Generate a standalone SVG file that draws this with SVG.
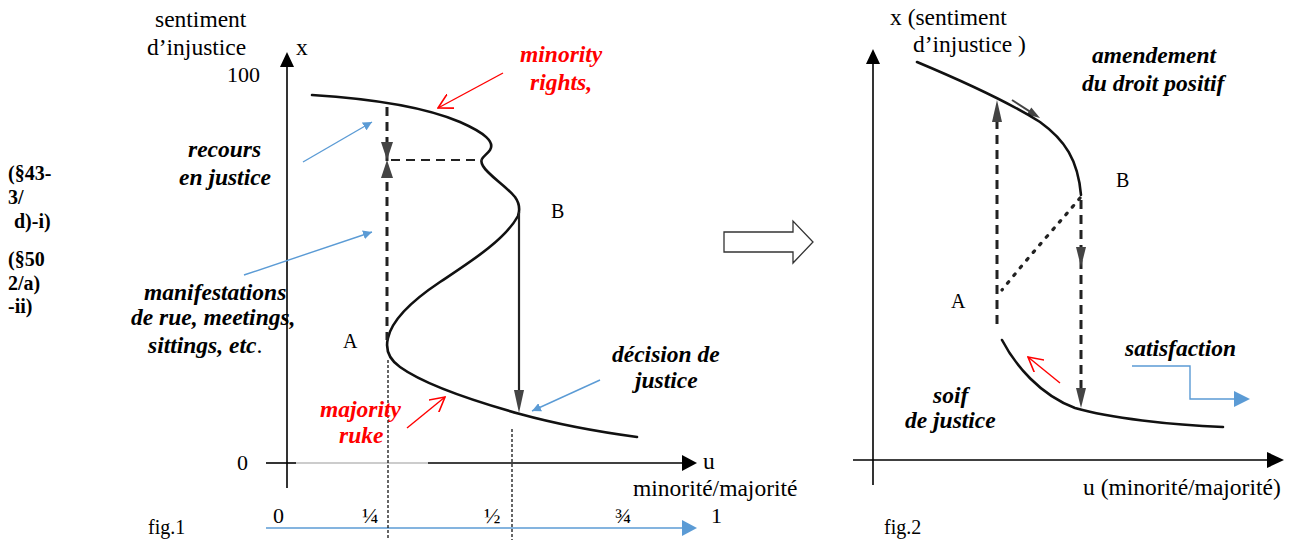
<svg xmlns="http://www.w3.org/2000/svg" width="1289" height="540" viewBox="0 0 1289 540">
<style>
text{font-family:"Liberation Serif","Times New Roman",serif;fill:#000}
.r{font-size:23.5px}
.n{font-size:22px}
.f{font-size:20px}
.bi{font-size:23.5px;font-weight:bold;font-style:italic}
.red{fill:#ff0000}
.b{font-size:20px;font-weight:bold}
.ax{stroke:#000;stroke-width:1.6;fill:none}
.curve{stroke:#111;stroke-width:2.6;fill:none;stroke-linecap:round;stroke-linejoin:round}
.dash{stroke:#222;stroke-width:3;fill:none;stroke-dasharray:9 6}
.thin{stroke:#000;stroke-width:1.2;fill:none;stroke-dasharray:3 2}
.blue{stroke:#5b9bd5;stroke-width:1.4;fill:none}
.redl{stroke:#ff0000;stroke-width:1.4;fill:none}
.head{fill:#444}
</style>
<defs>
<marker id="bh" viewBox="0 0 10 10" refX="10" refY="5" markerWidth="9" markerHeight="9" markerUnits="userSpaceOnUse" orient="auto"><path d="M0,0 L10,5 L0,10 z" fill="#5b9bd5"/></marker>
<marker id="rh" viewBox="0 0 12 12" refX="11" refY="6" markerWidth="16" markerHeight="16" markerUnits="userSpaceOnUse" orient="auto"><path d="M0,0 L11,6 L0,12" fill="none" stroke="#ff0000" stroke-width="1.2"/></marker>
</defs>

<g id="fig1-axes">
<line class="ax" x1="287" y1="488" x2="287" y2="66"/>
<polygon points="280,67 294,67 287,52" fill="#000"/>
<line x1="266" y1="463" x2="296" y2="463" stroke="#000" stroke-width="1.6"/>
<line x1="296" y1="463" x2="428" y2="463" stroke="#bbb" stroke-width="1.4"/>
<line x1="428" y1="463" x2="683" y2="463" stroke="#000" stroke-width="1.6"/>
<polygon points="682,455 682,471 697,463" fill="#000"/>
<line x1="266" y1="528" x2="683" y2="528" stroke="#5b9bd5" stroke-width="1.6"/>
<polygon points="682,520 682,536 697,528" fill="#5b9bd5"/>
<line class="thin" x1="388" y1="360" x2="388" y2="540"/>
<line class="thin" x1="512" y1="429" x2="512" y2="540"/>
</g>

<g id="fig1-curve">
<path class="curve" d="M312,95 C360,98 420,105 460,122 C485,133 495,142 490,150 C486,156 478,158 483,166 C488,175 505,185 515,197 C520,204 520,210 518,216 C505,240 470,262 440,282 C410,302 392,320 388,338 C385,350 390,360 400,367 C425,385 470,400 520,414 C560,425 600,432 637,437"/>
</g>

<g id="connectors">
<line x1="519" y1="212" x2="519" y2="395" stroke="#222" stroke-width="2.2"/>
<polygon class="head" points="514,390 524,390 519,413"/>
<line class="dash" x1="387" y1="107" x2="387" y2="340"/>
<polygon class="head" points="381,142 393,142 387,160"/>
<polygon class="head" points="381,178 393,178 387,160"/>
<line x1="391" y1="160" x2="482" y2="160" stroke="#222" stroke-width="2" stroke-dasharray="9 6"/>
<line class="blue" x1="303" y1="162" x2="372" y2="122" marker-end="url(#bh)"/>
<line class="blue" x1="244" y1="275" x2="372" y2="232" marker-end="url(#bh)"/>
<line class="blue" x1="600" y1="380" x2="532" y2="411" marker-end="url(#bh)"/>
<line class="redl" x1="503" y1="73" x2="438" y2="108" marker-end="url(#rh)"/>
<line class="redl" x1="407" y1="428" x2="445" y2="397" marker-end="url(#rh)"/>
<polygon points="724,232 793,232 793,221 813,242 793,263 793,252 724,252" fill="#fff" stroke="#333" stroke-width="1.3"/>
<line class="dash" x1="997" y1="120" x2="997" y2="325"/>
<polygon class="head" points="992,122 1002,122 997,100"/>
<line class="dash" x1="1081" y1="200" x2="1081" y2="392"/>
<polygon class="head" points="1076,247 1086,247 1081,267"/>
<polygon class="head" points="1076,388 1086,388 1081,408"/>
<path d="M1080,198 C1060,222 1030,255 1002,290" stroke="#222" stroke-width="3.2" fill="none" stroke-dasharray="2 8" stroke-linecap="round"/>
<line x1="1012" y1="100" x2="1030" y2="111.6" stroke="#444" stroke-width="2"/>
<polygon class="head" points="1040,118 1026.9,114.4 1031.3,107.6"/>
<line class="redl" x1="1060" y1="383" x2="1028" y2="357" marker-end="url(#rh)"/>
<polyline class="blue" points="1132,366 1190,366 1190,399 1235,399"/>
<polygon points="1234,391 1234,407 1250,399" fill="#5b9bd5"/>
</g>

<g id="fig2-axes">
<line class="ax" x1="873" y1="485" x2="873" y2="63"/>
<polygon points="866,64 880,64 873,49" fill="#000"/>
<line class="ax" x1="853" y1="460" x2="1268" y2="460"/>
<polygon points="1267,452 1267,468 1284,460" fill="#000"/>
</g>

<g id="fig2-curve">
<path class="curve" d="M917,62 C960,80 1010,103 1040,122 C1065,140 1078,160 1081,195"/>
<path class="curve" d="M1002,340 C1015,365 1040,395 1075,408 C1110,418 1170,425 1223,427"/>
</g>

<g id="fig1-labels">
<text class="r" x="155" y="27">sentiment</text>
<text class="r" x="147" y="55">d’injustice</text>
<text class="r" x="296" y="55">x</text>
<text class="n" x="227" y="82">100</text>
<text class="n" x="237" y="470">0</text>
<text class="r" x="703" y="469">u</text>
<text class="r" x="633" y="496">minorité/majorité</text>
<text class="n" x="273" y="523">0</text>
<text class="n" x="362" y="523">¼</text>
<text class="n" x="484" y="523">½</text>
<text class="n" x="615" y="523">¾</text>
<text class="n" x="711" y="523">1</text>
<text class="f" x="148" y="534">fig.1</text>
<text class="f" x="343" y="348">A</text>
<text class="f" x="551" y="218">B</text>
<text class="bi" x="188" y="157">recours</text>
<text class="bi" x="179" y="185">en justice</text>
<text class="bi" x="144" y="300">manifestations</text>
<text class="bi" x="131" y="325">de rue, meetings,</text>
<text class="bi" x="148" y="353">sittings, etc<tspan font-weight="normal" font-style="normal">.</tspan></text>
<text class="bi" x="612" y="362">décision de</text>
<text class="bi" x="635" y="388">justice</text>
<text class="bi red" x="520" y="62">minority</text>
<text class="bi red" x="530" y="90">rights,</text>
<text class="bi red" x="320" y="417">majority</text>
<text class="bi red" x="339" y="443">ruke</text>
<text class="b" x="8" y="180">(§43-</text>
<text class="b" x="8" y="204">3/</text>
<text class="b" x="14" y="228">d)-i)</text>
<text class="b" x="8" y="266">(§50</text>
<text class="b" x="8" y="290">2/a)</text>
<text class="b" x="8" y="313">-ii)</text>
</g>

<g id="fig2-labels">
<text class="r" x="890" y="25">x (sentiment</text>
<text class="r" x="913" y="52">d’injustice )</text>
<text class="bi" x="1092" y="63">amendement</text>
<text class="bi" x="1082" y="91">du droit positif</text>
<text class="f" x="1116" y="187">B</text>
<text class="f" x="951" y="308">A</text>
<text class="bi" x="1125" y="356">satisfaction</text>
<text class="bi" x="933" y="403">soif</text>
<text class="bi" x="905" y="428">de justice</text>
<text class="r" x="1083" y="495">u (minorité/majorité)</text>
<text class="f" x="884" y="534">fig.2</text>
</g>
</svg>
